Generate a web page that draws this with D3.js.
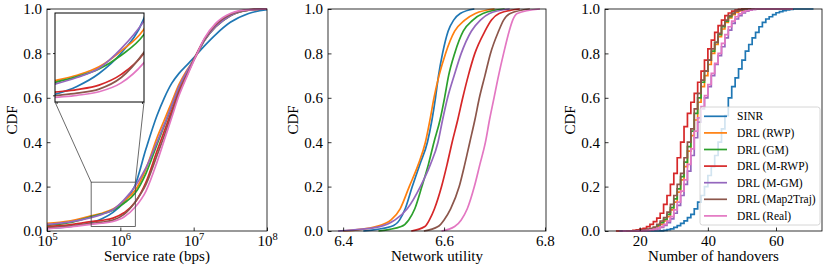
<!DOCTYPE html>
<html>
<head>
<meta charset="utf-8">
<script src="https://cdn.jsdelivr.net/npm/d3@7"></script>
<style>
body { margin: 0; background: #fff; }
svg text { font-family: "Liberation Serif", "Times New Roman", serif; font-size: 15px; fill: #000; }
</style>
</head>
<body>
<div id="chart"></div>
<script>
var SERIES = ["SINR", "DRL (RWP)", "DRL (GM)", "DRL (M-RWP)", "DRL (M-GM)", "DRL (Map2Traj)", "DRL (Real)"];
var COLORS = ["#1f77b4", "#ff7f0e", "#2ca02c", "#d62728", "#9467bd", "#8c564b", "#e377c2"];

var CDF_TICKS = [0, 0.2, 0.4, 0.6, 0.8, 1.0];

// service rate: CDF read at log10(bps)
var RATE_LOG = [5, 5.3, 5.6, 5.75, 5.9, 6.05, 6.2, 6.35, 6.5, 6.6, 6.7, 6.8, 6.9, 7.0, 7.15, 7.3, 7.5, 7.75, 8];
var RATE_CDF = [
    [0.012, 0.02, 0.037, 0.055, 0.084, 0.13, 0.205, 0.37, 0.52, 0.60, 0.665, 0.71, 0.745, 0.78, 0.835, 0.885, 0.94, 0.98, 0.997],
    [0.035, 0.045, 0.068, 0.08, 0.099, 0.135, 0.182, 0.28, 0.42, 0.50, 0.58, 0.66, 0.72, 0.77, 0.86, 0.92, 0.97, 0.995, 1],
    [0.025, 0.037, 0.064, 0.077, 0.094, 0.125, 0.17, 0.26, 0.39, 0.475, 0.56, 0.645, 0.71, 0.77, 0.86, 0.92, 0.97, 0.995, 1],
    [0.02, 0.028, 0.042, 0.048, 0.058, 0.082, 0.128, 0.22, 0.36, 0.45, 0.54, 0.63, 0.70, 0.77, 0.865, 0.925, 0.975, 0.996, 1],
    [0.03, 0.04, 0.06, 0.075, 0.096, 0.14, 0.20, 0.285, 0.40, 0.48, 0.565, 0.65, 0.715, 0.77, 0.86, 0.92, 0.97, 0.995, 1],
    [0.015, 0.022, 0.034, 0.04, 0.049, 0.075, 0.13, 0.21, 0.34, 0.43, 0.525, 0.62, 0.695, 0.77, 0.865, 0.93, 0.975, 0.996, 1],
    [0.01, 0.018, 0.03, 0.035, 0.043, 0.063, 0.107, 0.18, 0.31, 0.41, 0.51, 0.61, 0.69, 0.765, 0.87, 0.935, 0.98, 0.997, 1]
];
var RATE_TICKS = [1e5, 1e6, 1e7, 1e8];
var INSET_X = [4e5, 1.6e6];
var INSET_Y = [0.02, 0.22];
var INSET_XTICKS = [4.1e5, 1.55e6];
var INSET_YTICKS = [0.035, 0.13];

// network utility: value reached at each CDF level
var UTIL_LEVELS = [0, 0.02, 0.05, 0.1, 0.2, 0.3, 0.4, 0.5, 0.6, 0.7, 0.8, 0.9, 0.95, 0.98, 1];
var UTIL_VALUES = [
    [6.44, 6.495, 6.512, 6.523, 6.537, 6.552, 6.567, 6.576, 6.583, 6.589, 6.597, 6.608, 6.619, 6.632, 6.66],
    [6.40, 6.465, 6.495, 6.513, 6.531, 6.549, 6.563, 6.572, 6.580, 6.590, 6.603, 6.621, 6.641, 6.662, 6.70],
    [6.47, 6.515, 6.530, 6.542, 6.556, 6.569, 6.580, 6.592, 6.601, 6.609, 6.621, 6.638, 6.657, 6.677, 6.72],
    [6.535, 6.562, 6.571, 6.581, 6.595, 6.606, 6.616, 6.627, 6.637, 6.648, 6.661, 6.681, 6.694, 6.709, 6.75],
    [6.39, 6.473, 6.503, 6.527, 6.553, 6.573, 6.588, 6.597, 6.607, 6.620, 6.634, 6.654, 6.672, 6.69, 6.73],
    [6.56, 6.588, 6.600, 6.613, 6.630, 6.641, 6.651, 6.661, 6.670, 6.681, 6.692, 6.708, 6.718, 6.731, 6.77],
    [6.595, 6.621, 6.634, 6.646, 6.660, 6.671, 6.682, 6.690, 6.699, 6.708, 6.718, 6.729, 6.736, 6.745, 6.79]
];
var UTIL_TICKS = [6.4, 6.6, 6.8];

// number of handovers: CDF at each count
var HO_COUNTS = [18, 19, 20, 21, 22, 23, 24, 25, 26, 27, 28, 29, 30, 31, 32, 33, 34, 35, 36, 37, 38, 39, 40, 41,
    42, 43, 44, 45, 46, 47, 48, 49, 50, 51, 52, 53, 54, 55, 56, 57, 58, 59, 60, 61, 62, 63, 64, 65];
var HO_CDF = [
    [0, 0, 0, 0, 0, 0, 0, 0, 0.001, 0.003, 0.006, 0.01, 0.016, 0.024, 0.034, 0.046, 0.06, 0.075, 0.10, 0.13, 0.16, 0.20, 0.25, 0.29,
     0.34, 0.40, 0.46, 0.52, 0.60, 0.65, 0.69, 0.73, 0.77, 0.81, 0.84, 0.87, 0.895, 0.92, 0.94, 0.955, 0.965, 0.975, 0.983, 0.988, 0.993, 0.996, 0.998, 1],
    [0.001, 0.001, 0.002, 0.003, 0.005, 0.008, 0.012, 0.02, 0.03, 0.045, 0.065, 0.095, 0.13, 0.175, 0.23, 0.29, 0.36, 0.43, 0.50, 0.58, 0.65, 0.70, 0.75, 0.80,
     0.84, 0.875, 0.91, 0.94, 0.96, 0.975, 0.985, 0.992, 0.996, 0.998, 1, 1, 1, 1, 1, 1, 1, 1, 1, 1, 1, 1, 1, 1],
    [0.001, 0.001, 0.002, 0.004, 0.006, 0.01, 0.015, 0.025, 0.038, 0.052, 0.075, 0.105, 0.145, 0.19, 0.245, 0.31, 0.38, 0.45, 0.53, 0.60, 0.67, 0.72, 0.77, 0.81,
     0.85, 0.885, 0.92, 0.945, 0.965, 0.98, 0.99, 0.995, 0.998, 1, 1, 1, 1, 1, 1, 1, 1, 1, 1, 1, 1, 1, 1, 1],
    [0.003, 0.005, 0.008, 0.012, 0.02, 0.03, 0.042, 0.058, 0.08, 0.12, 0.16, 0.21, 0.26, 0.33, 0.40, 0.47, 0.53, 0.58, 0.62, 0.67, 0.72, 0.77, 0.82, 0.86,
     0.895, 0.925, 0.95, 0.97, 0.982, 0.99, 0.995, 0.998, 1, 1, 1, 1, 1, 1, 1, 1, 1, 1, 1, 1, 1, 1, 1, 1],
    [0, 0.001, 0.001, 0.002, 0.003, 0.004, 0.006, 0.01, 0.016, 0.025, 0.038, 0.055, 0.08, 0.115, 0.16, 0.21, 0.27, 0.34, 0.42, 0.49, 0.55, 0.60, 0.65, 0.70,
     0.75, 0.79, 0.83, 0.87, 0.905, 0.935, 0.955, 0.97, 0.982, 0.99, 0.995, 0.998, 1, 1, 1, 1, 1, 1, 1, 1, 1, 1, 1, 1],
    [0.001, 0.002, 0.003, 0.005, 0.008, 0.012, 0.018, 0.03, 0.045, 0.06, 0.085, 0.12, 0.16, 0.21, 0.26, 0.33, 0.40, 0.46, 0.55, 0.62, 0.68, 0.72, 0.77, 0.82,
     0.85, 0.89, 0.925, 0.95, 0.97, 0.98, 0.99, 0.995, 0.998, 1, 1, 1, 1, 1, 1, 1, 1, 1, 1, 1, 1, 1, 1, 1],
    [0, 0.001, 0.001, 0.002, 0.003, 0.005, 0.008, 0.013, 0.02, 0.03, 0.045, 0.065, 0.095, 0.13, 0.18, 0.23, 0.30, 0.37, 0.45, 0.51, 0.56, 0.61, 0.66, 0.71,
     0.755, 0.80, 0.845, 0.885, 0.92, 0.945, 0.965, 0.978, 0.987, 0.993, 0.996, 0.998, 1, 1, 1, 1, 1, 1, 1, 1, 1, 1, 1, 1]
];
var HO_MIN = [17, 16, 16, 13, 14, 16, 15];
var HO_MAX = [71, 60, 58, 56, 62, 58, 64];
var HO_TICKS = [20, 40, 60];

var W = 830, H = 277;
var yTop = 9, yBot = 231;

var svg = d3.select("#chart").append("svg")
    .attr("width", W)
    .attr("height", H);

var y = d3.scaleLinear().domain([0, 1]).range([yBot, yTop]);

function drawAxes(x, left, right, xTicks, xLabel, xFormat) {
    var g = svg.append("g");
    var xa = g.append("g")
        .attr("transform", "translate(0," + yBot + ")")
        .call(d3.axisBottom(x).tickValues(xTicks).tickFormat(xFormat)
            .tickSizeInner(-3.5).tickSizeOuter(0).tickPadding(4));
    var ya = g.append("g")
        .attr("transform", "translate(" + left + ",0)")
        .call(d3.axisLeft(y).tickValues(CDF_TICKS).tickFormat(d3.format(".1f"))
            .tickSizeInner(-3.5).tickSizeOuter(0).tickPadding(5));
    [xa, ya].forEach(function(a) {
        a.attr("font-family", null).attr("font-size", null);
        a.select(".domain").remove();
        a.selectAll(".tick line").attr("stroke", "#000").attr("stroke-width", 0.8);
    });
    g.append("rect")
        .attr("x", left).attr("y", yTop)
        .attr("width", right - left).attr("height", yBot - yTop)
        .attr("fill", "none").attr("stroke", "#000").attr("stroke-width", 0.8);
    g.append("text")
        .attr("x", (left + right) / 2).attr("y", 261)
        .attr("text-anchor", "middle")
        .text(xLabel);
    g.append("text")
        .attr("transform", "translate(" + (left - 30) + "," + ((yTop + yBot) / 2) + ") rotate(-90)")
        .attr("text-anchor", "middle")
        .text("CDF");
    return xa;
}

function drawLines(g, rows, curve) {
    var line = d3.line().curve(curve)
        .x(function(d) { return d[0]; })
        .y(function(d) { return d[1]; });
    g.selectAll("path.cdf")
        .data(rows)
        .enter().append("path")
        .attr("class", "cdf")
        .attr("fill", "none")
        .attr("stroke", function(d, i) { return COLORS[i]; })
        .attr("stroke-width", 1.7)
        .attr("d", line);
}

// ---- panel 1: service rate ----
var x1 = d3.scaleLog().domain([1e5, 1e8]).range([47, 267]);
var rateRows = RATE_CDF.map(function(s) {
    return s.map(function(v, j) { return [x1(Math.pow(10, RATE_LOG[j])), y(v)]; });
});
drawLines(svg.append("g"), rateRows, d3.curveMonotoneX);
var xa1 = drawAxes(x1, 47, 267, RATE_TICKS, "Service rate (bps)", function() { return ""; });
xa1.selectAll(".tick text").each(function(d) {
    var t = d3.select(this);
    t.append("tspan").text("10");
    t.append("tspan").attr("dy", -6).style("font-size", "10.5px").text(Math.round(Math.log10(d)));
});

// zoom box + connectors
var bx0 = x1(INSET_X[0]), bx1 = x1(INSET_X[1]);
var by0 = y(INSET_Y[1]), by1 = y(INSET_Y[0]);
var inL = 55, inR = 144, inT = 13, inB = 102;
svg.append("rect")
    .attr("x", bx0).attr("y", by0).attr("width", bx1 - bx0).attr("height", by1 - by0)
    .attr("fill", "none").attr("stroke", "#444").attr("stroke-width", 0.8);
svg.append("line").attr("x1", inL).attr("y1", inB).attr("x2", bx0).attr("y2", by0)
    .attr("stroke", "#444").attr("stroke-width", 0.8);
svg.append("line").attr("x1", inR).attr("y1", inB).attr("x2", bx1).attr("y2", by0)
    .attr("stroke", "#444").attr("stroke-width", 0.8);

// inset
var ix = d3.scaleLog().domain(INSET_X).range([inL, inR]);
var iy = d3.scaleLinear().domain(INSET_Y).range([inB, inT]);
svg.append("clipPath").attr("id", "inset-clip")
    .append("rect").attr("x", inL).attr("y", inT).attr("width", inR - inL).attr("height", inB - inT);
svg.append("rect").attr("x", inL).attr("y", inT).attr("width", inR - inL).attr("height", inB - inT)
    .attr("fill", "#fff");
var insetRows = RATE_CDF.map(function(s) {
    return s.map(function(v, j) { return [ix(Math.pow(10, RATE_LOG[j])), iy(v)]; });
});
drawLines(svg.append("g").attr("clip-path", "url(#inset-clip)"), insetRows, d3.curveMonotoneX);
svg.append("rect").attr("x", inL).attr("y", inT).attr("width", inR - inL).attr("height", inB - inT)
    .attr("fill", "none").attr("stroke", "#000").attr("stroke-width", 1);
var iax = svg.append("g").attr("transform", "translate(0," + inB + ")")
    .call(d3.axisBottom(ix).tickValues(INSET_XTICKS).tickFormat("").tickSizeOuter(0).tickSizeInner(2));
var iay = svg.append("g").attr("transform", "translate(" + inL + ",0)")
    .call(d3.axisLeft(iy).tickValues(INSET_YTICKS).tickFormat("").tickSizeOuter(0).tickSizeInner(2));
[iax, iay].forEach(function(a) {
    a.select(".domain").remove();
    a.selectAll(".tick line").attr("stroke", "#000").attr("stroke-width", 0.8);
});

// ---- panel 2: network utility ----
var x2 = d3.scaleLinear().domain([6.37, 6.802]).range([328, 546]);
var utilRows = UTIL_VALUES.map(function(s) {
    return s.map(function(v, j) { return [x2(v), y(UTIL_LEVELS[j])]; });
});
drawLines(svg.append("g"), utilRows, d3.curveMonotoneX);
drawAxes(x2, 328, 546, UTIL_TICKS, "Network utility", d3.format(".1f"));

// ---- panel 3: number of handovers ----
var x3 = d3.scaleLinear().domain([9.8, 73.5]).range([605, 822]);
var hoRows = HO_CDF.map(function(s, i) {
    var pts = [[x3(HO_MIN[i]), y(0)]];
    s.forEach(function(v, j) { pts.push([x3(HO_COUNTS[j]), y(v)]); });
    pts.push([x3(HO_MAX[i]), y(1)]);
    return pts;
});
drawLines(svg.append("g"), hoRows, d3.curveStepAfter);
drawAxes(x3, 605, 822, HO_TICKS, "Number of handovers", d3.format("d"));

// legend
var lg = svg.append("g");
lg.append("rect")
    .attr("x", 700).attr("y", 107).attr("width", 120).attr("height", 118)
    .attr("rx", 2.5)
    .attr("fill", "#fff").attr("fill-opacity", 0.8)
    .attr("stroke", "#ccc").attr("stroke-width", 0.8);
var rows = lg.selectAll("g.item").data(SERIES).enter().append("g")
    .attr("class", "item")
    .attr("transform", function(d, i) { return "translate(0," + (116.3 + i * 16.6) + ")"; });
rows.append("line")
    .attr("x1", 704).attr("x2", 727)
    .attr("stroke", function(d, i) { return COLORS[i]; })
    .attr("stroke-width", 1.7);
rows.append("text")
    .attr("x", 737).attr("dy", "0.35em")
    .style("font-size", "11.5px")
    .text(function(d) { return d; });
</script>
</body>
</html>
